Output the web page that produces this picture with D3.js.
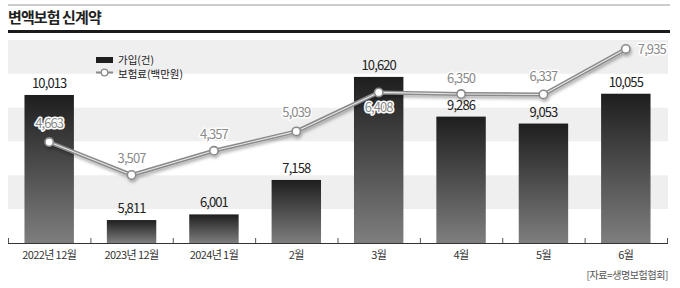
<!DOCTYPE html>
<html><head><meta charset="utf-8">
<script src="https://cdn.jsdelivr.net/npm/d3@7"></script>
<style>
html,body{margin:0;padding:0;background:#fff;}
svg{display:block;font-family:"Noto Sans CJK KR","Noto Sans",sans-serif;}
</style></head>
<body><svg id="c" width="680" height="288"></svg>
<script>
const categories = ["2022년 12월","2023년 12월","2024년 1월","2월","3월","4월","5월","6월"];
const contracts = [10013, 5811, 6001, 7158, 10620, 9286, 9053, 10055];   // 가입(건)
const premiums  = [4663, 3507, 4357, 5039, 6408, 6350, 6337, 7935];      // 보험료(백만원)
const title = "변액보험 신계약";
const legendLabels = ["가입(건)", "보험료(백만원)"];
const source = "[자료=생명보험협회]";

const svg = d3.select("#c");
const L = 8, R = 667, T = 40, B = 243;

const defs = svg.append("defs");
const grad = defs.append("linearGradient").attr("id","bg").attr("x1",0).attr("y1",0).attr("x2",0).attr("y2",1);
grad.append("stop").attr("offset","0%").attr("stop-color","#1e1e1e");
grad.append("stop").attr("offset","100%").attr("stop-color","#7e7e7e");
const f = defs.append("filter").attr("id","sh").attr("x","-10%").attr("y","-50%").attr("width","120%").attr("height","200%");
f.append("feDropShadow").attr("dx",1).attr("dy",2.5).attr("stdDeviation",1.6).attr("flood-color","#000").attr("flood-opacity",0.3);

// header lines and title
svg.append("line").attr("x1",L).attr("x2",670).attr("y1",5).attr("y2",5).attr("stroke","#9a9a9a").attr("stroke-width",1);
svg.append("text").attr("x",L).attr("y",23).text(title)
  .attr("font-size",15).attr("font-weight",700).attr("letter-spacing",-0.9).attr("fill","#222");
svg.append("rect").attr("x",L).attr("y",30).attr("width",670-L).attr("height",3).attr("fill","#1a1a1a");

// background bands
const rows = d3.range(6);
const yr = d3.scaleBand().domain(rows).range([T,B]);
svg.append("g").selectAll("rect").data(rows).join("rect")
  .attr("x",L).attr("width",R-L+1).attr("y",d=>yr(d)).attr("height",yr.bandwidth())
  .attr("fill",d=>d%2===0?"#efefef":"#ffffff");

const x = d3.scaleBand().domain(categories).range([L,R]).paddingInner(0.4).paddingOuter(0.2);
const yBar = d3.scaleLinear().domain([5040, 11860]).range([B,T]);
const yLine = d3.scaleLinear().domain([1117, 8250]).range([B,T]);

// bars
svg.append("g").selectAll("rect").data(categories).join("rect")
  .attr("x",d=>x(d)).attr("width",x.bandwidth())
  .attr("y",(d,i)=>yBar(contracts[i])).attr("height",(d,i)=>B-yBar(contracts[i]))
  .attr("fill","url(#bg)");

// bar labels
svg.append("g").selectAll("text").data(categories).join("text")
  .attr("x",d=>x(d)+x.bandwidth()/2).attr("y",(d,i)=>yBar(contracts[i])-7)
  .attr("text-anchor","middle").attr("font-size",13).attr("letter-spacing",-0.9)
  .attr("fill","#222").text((d,i)=>d3.format(",")(contracts[i]));

// axis
const xAxis = d3.axisBottom(x).tickSize(0).tickPadding(8);
const ax = svg.append("g").attr("transform",`translate(0,${B})`).call(xAxis);
ax.select(".domain").remove();
ax.selectAll("text").attr("font-size",11).attr("fill","#333").attr("letter-spacing",-0.6)
  .attr("font-family","'Noto Sans CJK KR',sans-serif");
svg.append("line").attr("x1",L).attr("x2",R+1).attr("y1",B+0.5).attr("y2",B+0.5).attr("stroke","#333");
const step = x.step();
const x0 = x(categories[0]) - x.paddingOuter()*step;
svg.append("g").selectAll("line").data(d3.range(categories.length+1)).join("line")
  .attr("x1",i=>x0+i*step+0.5).attr("x2",i=>x0+i*step+0.5).attr("y1",B).attr("y2",B-5)
  .attr("stroke","#555");

// line series
const cx = d=>x(d)+x.bandwidth()/2;
const lineGen = d3.line().x((d,i)=>cx(categories[i])).y(d=>yLine(d));
const lg = svg.append("g").attr("filter","url(#sh)");
lg.append("path").datum(premiums).attr("d",lineGen).attr("fill","none").attr("stroke","#8a8a8a").attr("stroke-width",4).attr("stroke-linejoin","round");
lg.append("path").datum(premiums).attr("d",lineGen).attr("fill","none").attr("stroke","#e8e8e8").attr("stroke-width",1.1).attr("stroke-linejoin","round");
lg.selectAll("circle").data(premiums).join("circle")
  .attr("cx",(d,i)=>cx(categories[i])).attr("cy",d=>yLine(d)).attr("r",4.2)
  .attr("fill","#fff").attr("stroke","#8a8a8a").attr("stroke-width",1.6);

// line labels
const offs = [[0,-14],[0,-12],[0,-12],[0,-14],[0,20],[0,-11],[0,-13],[12,5]];
svg.append("g").selectAll("text").data(premiums).join("text")
  .attr("x",(d,i)=>cx(categories[i])+offs[i][0]).attr("y",(d,i)=>yLine(d)+offs[i][1])
  .attr("text-anchor",(d,i)=>i===7?"start":"middle")
  .attr("font-size",13).attr("letter-spacing",-0.9)
  .attr("fill","#8a8a8a").attr("stroke","#fff").attr("stroke-width",3).attr("paint-order","stroke")
  .attr("stroke-linejoin","round")
  .text(d=>d3.format(",")(d));

// legend
const lgd = svg.append("g");
lgd.append("rect").attr("x",96).attr("y",57).attr("width",17).attr("height",6).attr("fill","#1e1e1e");
lgd.append("text").attr("x",118).attr("y",63.5).attr("font-size",10.5).attr("fill","#222").text(legendLabels[0]);
lgd.append("line").attr("x1",96).attr("x2",113).attr("y1",72.5).attr("y2",72.5).attr("stroke","#8a8a8a").attr("stroke-width",2);
lgd.append("circle").attr("cx",104.5).attr("cy",72.5).attr("r",3.3).attr("fill","#fff").attr("stroke","#8a8a8a").attr("stroke-width",1.3);
lgd.append("text").attr("x",118).attr("y",77.5).attr("font-size",10.5).attr("fill","#222").text(legendLabels[1]);

// source
svg.append("text").attr("x",668).attr("y",279).attr("text-anchor","end").attr("font-size",10)
  .attr("letter-spacing",-0.4).attr("fill","#555").text(source);
</script></body></html>
